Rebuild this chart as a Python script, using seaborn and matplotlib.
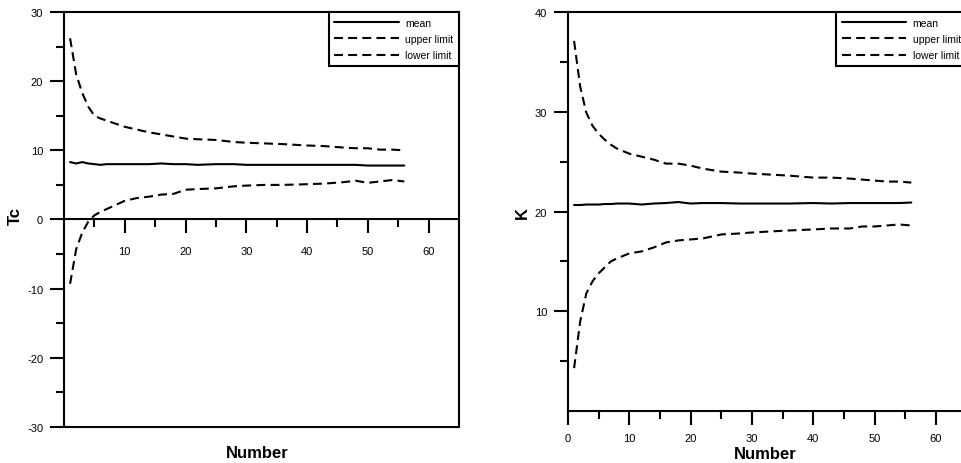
import numpy as np
import pandas as pd
import matplotlib
matplotlib.use("Agg")
import matplotlib.pyplot as plt
import seaborn as sns

# data
number = [1, 2, 3, 4, 5, 6, 7, 8, 10, 12, 14, 16, 18, 20, 22, 25, 28, 30,
          33, 36, 40, 43, 46, 48, 50, 52, 54, 56]

tc_mean = [8.3, 8.1, 8.3, 8.1, 8.0, 7.9, 8.0, 8.0, 8.0, 8.0, 8.0, 8.1, 8.0, 8.0,
           7.9, 8.0, 8.0, 7.9, 7.9, 7.9, 7.9, 7.9, 7.9, 7.9, 7.8, 7.8, 7.8, 7.8]
tc_upper = [26.2, 21.0, 18.3, 16.3, 15.0, 14.6, 14.3, 14.0, 13.4, 13.0, 12.6, 12.3,
            12.0, 11.7, 11.6, 11.5, 11.2, 11.1, 11.0, 10.9, 10.7, 10.6, 10.4, 10.3,
            10.3, 10.1, 10.1, 10.0]
tc_lower = [-9.3, -4.3, -1.9, -0.3, 0.6, 1.1, 1.5, 1.9, 2.7, 3.1, 3.3, 3.6, 3.7, 4.3,
            4.4, 4.5, 4.8, 4.9, 5.0, 5.0, 5.1, 5.2, 5.4, 5.6, 5.3, 5.5, 5.7, 5.5]

k_mean = [20.65, 20.65, 20.7, 20.7, 20.7, 20.75, 20.75, 20.8, 20.8, 20.7, 20.8, 20.85,
          20.95, 20.8, 20.85, 20.85, 20.8, 20.8, 20.8, 20.8, 20.85, 20.8, 20.85, 20.85,
          20.85, 20.85, 20.85, 20.9]
k_upper = [37.1, 32.5, 29.9, 28.6, 27.8, 27.2, 26.7, 26.3, 25.8, 25.5, 25.2, 24.8,
           24.8, 24.6, 24.3, 24.0, 23.9, 23.8, 23.7, 23.6, 23.4, 23.4, 23.3, 23.2,
           23.1, 23.0, 23.0, 22.9]
k_lower = [4.3, 9.0, 11.8, 13.0, 13.8, 14.4, 15.0, 15.3, 15.8, 16.0, 16.4, 16.9,
           17.1, 17.2, 17.3, 17.7, 17.8, 17.9, 18.0, 18.1, 18.2, 18.3, 18.3, 18.5,
           18.5, 18.6, 18.7, 18.6]

sns.set_style("ticks")
plt.rcParams['font.family'] = ['Liberation Sans', 'DejaVu Sans']
plt.rcParams['axes.linewidth'] = 1.5
plt.rcParams['axes.unicode_minus'] = False
for key in ['text.color', 'axes.labelcolor', 'xtick.color', 'ytick.color',
            'axes.edgecolor']:
    plt.rcParams[key] = 'black'

fig = plt.figure(figsize=(9.61, 4.64), dpi=100)
ax1 = fig.add_axes([0.0666, 0.0776, 0.411, 0.8944])
ax2 = fig.add_axes([0.591, 0.112, 0.4147, 0.860])

dash = (4.3, 2.5)


def draw(ax, mean, upper, lower):
    sns.lineplot(x=number, y=mean, ax=ax, color="black", lw=1.5, label="mean")
    sns.lineplot(x=number, y=upper, ax=ax, color="black", lw=1.5, label="upper limit")
    sns.lineplot(x=number, y=lower, ax=ax, color="black", lw=1.5, label="lower limit")
    ax.lines[1].set_dashes(dash)
    ax.lines[2].set_dashes(dash)
    for s in ax.spines.values():
        s.set_linewidth(1.5)
        s.set_color("black")
    ax.tick_params(which="major", length=10, width=1.5, labelsize=8, color="black")
    ax.tick_params(which="minor", length=6, width=1.5, color="black")
    leg = ax.legend(loc="upper right", fontsize=7.5, handlelength=6.2,
                    handletextpad=0.6, labelspacing=0.6, borderpad=0.55,
                    borderaxespad=0, fancybox=False, framealpha=1,
                    edgecolor="black")
    leg.get_frame().set_linewidth(1.5)


# left panel: Tc
draw(ax1, tc_mean, tc_upper, tc_lower)
tc_ylim = (-30, 30)
ax1.set_xlim(0, 65)
ax1.set_ylim(*tc_ylim)
ax1.spines['bottom'].set_position(('data', 0))
# closing line of the frame at the bottom of the box
ax1.axhline(tc_ylim[0], color="black", lw=1.5, clip_on=False)
ax1.set_xticks([10, 20, 30, 40, 50, 60])
ax1.set_xticks([5, 15, 25, 35, 45, 55], minor=True)
ax1.set_yticks([-30, -20, -10, 0, 10, 20, 30])
ax1.set_yticks([-25, -15, -5, 5, 15, 25], minor=True)
ax1.tick_params(axis="x", which="major", pad=9)
ax1.tick_params(axis="y", which="major", pad=5)
ax1.set_xlabel("Number", fontsize=12, fontweight="bold")
ax1.set_ylabel("Tc", fontsize=12, fontweight="bold")
ax1.xaxis.set_label_coords(0.49, -0.043)
ax1.yaxis.set_label_coords(-0.104, 0.51)

# right panel: K
draw(ax2, k_mean, k_upper, k_lower)
ax2.set_xlim(0, 65)
ax2.set_ylim(0, 40)
ax2.set_xticks([0, 10, 20, 30, 40, 50, 60])
ax2.set_xticks([5, 15, 25, 35, 45, 55], minor=True)
ax2.set_yticks([10, 20, 30, 40])
ax2.set_yticks([5, 15, 25, 35], minor=True)
ax2.tick_params(axis="x", which="major", pad=6)
ax2.tick_params(axis="y", which="major", pad=5)
ax2.set_xlabel("Number", fontsize=12, fontweight="bold")
ax2.set_ylabel("K", fontsize=12, fontweight="bold")
ax2.xaxis.set_label_coords(0.494, -0.088)
ax2.yaxis.set_label_coords(-0.095, 0.50)

fig.savefig("out.png", dpi=100)
